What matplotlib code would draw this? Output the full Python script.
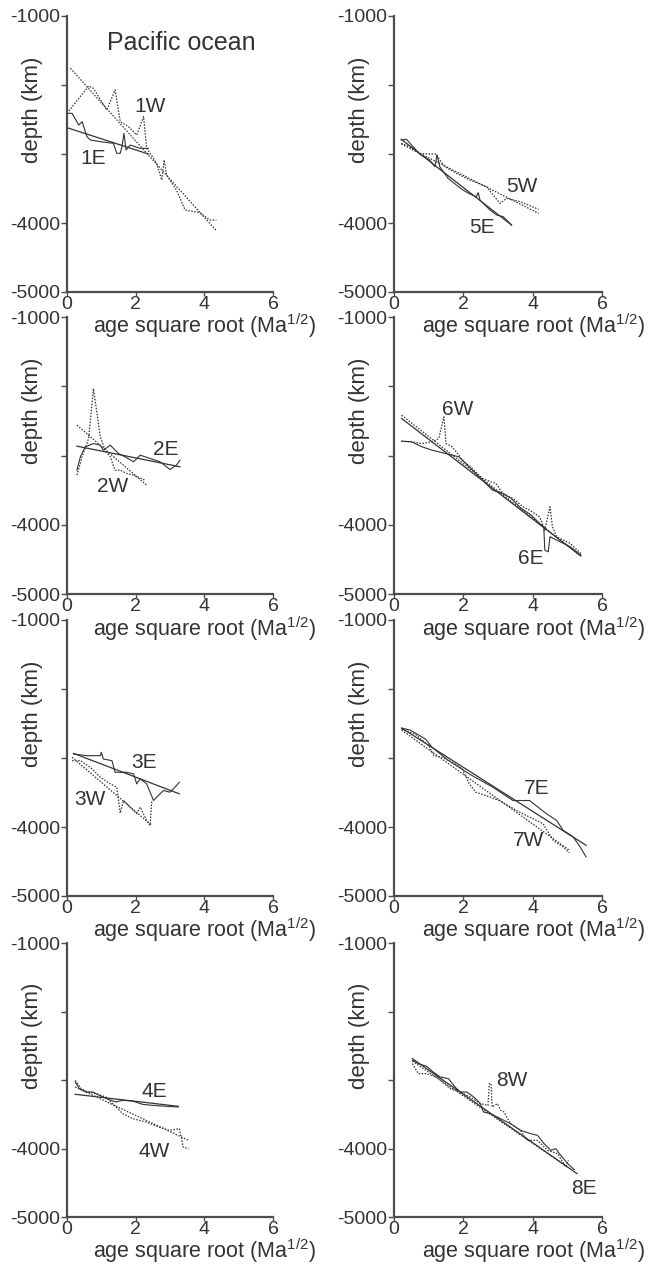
import numpy as np
import matplotlib
matplotlib.use("Agg")
import matplotlib.pyplot as plt

plt.rcParams['font.family'] = ['Liberation Sans', 'DejaVu Sans']
plt.rcParams['mathtext.fontset'] = 'custom'
plt.rcParams['mathtext.rm'] = 'Liberation Sans'
plt.rcParams['mathtext.it'] = 'Liberation Sans:italic'

# ---- profiles: x = sqrt(age) (Ma^1/2), y = depth ----
# panel 1
p1_e_x = [0.0, 0.15, 0.34, 0.44, 0.58, 0.68, 0.97, 1.35, 1.45, 1.55, 1.60, 1.66, 1.72, 1.84, 2.13, 2.37]
p1_e_y = [-2411, -2411, -2580, -2531, -2749, -2797, -2821, -2845, -2990, -2990, -2894, -2700, -2942, -2870, -2918, -2918]
p1_w_x = [0.0, 0.63, 0.77, 1.16, 1.40, 1.55, 1.79, 2.03, 2.23, 2.32, 2.42, 2.61, 2.76, 2.83, 2.90, 3.19, 3.44, 3.87, 4.16, 4.35]
p1_w_y = [-2411, -2015, -2048, -2362, -2072, -2531, -2604, -2725, -2459, -2918, -2990, -3135, -3377, -3087, -3304, -3522, -3812, -3850, -3957, -3957]
# panel 2
p2_e_x = [0.29, 0.39, 0.53, 0.77, 0.97, 1.06, 1.26, 1.50, 1.69, 1.94, 2.13, 2.42, 2.71, 3.00, 3.19, 3.29]
p2_e_y = [-3212, -3019, -2875, -2827, -2851, -2923, -2851, -2971, -3019, -3091, -2995, -3043, -3091, -3202, -3139, -3067]
p2_w_x = [0.29, 0.44, 0.63, 0.77, 0.97, 1.11, 1.26, 1.40, 1.55, 1.74, 1.94, 2.27]
p2_w_y = [-3284, -3019, -2755, -2034, -2731, -2923, -3019, -3212, -3212, -3260, -3284, -3356]
# panel 3
p3_e_x = [0.19, 0.58, 0.97, 1.00, 1.06, 1.31, 1.40, 1.50, 1.74, 1.94, 2.03, 2.13, 2.32, 2.52, 2.66, 2.81, 3.00, 3.19, 3.27]
p3_e_y = [-2942, -2966, -2966, -2918, -3014, -3039, -3207, -3207, -3207, -3231, -3375, -3303, -3375, -3616, -3544, -3471, -3495, -3399, -3351]
p3_w_x = [0.15, 0.39, 0.68, 0.97, 1.26, 1.45, 1.55, 1.65, 1.84, 2.03, 2.13, 2.32, 2.42, 2.47]
p3_w_y = [-3039, -3039, -3135, -3279, -3375, -3423, -3798, -3616, -3712, -3808, -3712, -3904, -3977, -3616]
# panel 4
p4_e_x = [0.24, 0.36, 0.55, 0.75, 0.94, 1.23, 1.42, 1.62, 1.91, 2.20, 2.49, 2.88, 3.24]
p4_e_y = [-3029, -3126, -3175, -3175, -3224, -3287, -3321, -3297, -3307, -3355, -3370, -3384, -3394]
p4_w_x = [0.24, 0.41, 0.60, 0.84, 1.13, 1.38, 1.62, 1.91, 2.30, 2.68, 2.97, 3.27, 3.34, 3.38, 3.54]
p4_w_y = [-3005, -3126, -3175, -3199, -3248, -3370, -3491, -3564, -3613, -3686, -3735, -3710, -3856, -3978, -4002]
# panel 5
p5_e_x = [0.21, 0.36, 0.55, 0.74, 1.03, 1.18, 1.24, 1.32, 1.56, 1.80, 1.99, 2.19, 2.38, 2.43, 2.48, 2.77, 2.96, 3.15, 3.39]
p5_e_y = [-2797, -2787, -2894, -3000, -3087, -3184, -3014, -3184, -3353, -3450, -3522, -3580, -3618, -3560, -3667, -3812, -3884, -3908, -4029]
p5_w_x = [0.21, 0.45, 0.74, 0.98, 1.22, 1.32, 1.47, 1.80, 2.19, 2.67, 2.86, 3.06, 3.25, 3.64, 4.17]
p5_w_y = [-2845, -2894, -2990, -3000, -3000, -3087, -3184, -3280, -3377, -3473, -3594, -3715, -3643, -3691, -3802]
# panel 6
p6_e_x = [0.22, 0.51, 0.81, 1.10, 1.49, 1.87, 2.17, 2.46, 2.84, 3.14, 3.38, 3.67, 3.96, 4.20, 4.32, 4.35, 4.45, 4.50, 4.69, 5.08, 5.39]
p6_e_y = [-2793, -2803, -2875, -2923, -2971, -3019, -3164, -3308, -3500, -3548, -3620, -3764, -3861, -3981, -4029, -4366, -4390, -4173, -4221, -4317, -4437]
p6_w_x = [0.22, 0.51, 0.81, 1.10, 1.29, 1.44, 1.50, 1.68, 1.87, 1.97, 2.26, 2.55, 2.80, 2.94, 3.14, 3.43, 3.72, 3.91, 4.20, 4.35, 4.50, 4.57, 4.69, 5.08, 5.39]
p6_w_y = [-2793, -2803, -2827, -2803, -2755, -2442, -2827, -2875, -2995, -3067, -3188, -3332, -3380, -3404, -3548, -3620, -3740, -3789, -3885, -4077, -3740, -4029, -4173, -4269, -4414]
# panel 7
p7_e_x = [0.22, 0.47, 0.91, 1.10, 1.58, 2.17, 2.85, 3.43, 3.91, 4.40, 4.69, 4.88, 5.17, 5.37, 5.54]
p7_e_y = [-2567, -2596, -2726, -2846, -3039, -3231, -3423, -3616, -3616, -3808, -3904, -4049, -4145, -4289, -4433]
p7_w_x = [0.22, 0.61, 1.00, 1.15, 1.39, 1.78, 1.97, 2.17, 2.36, 2.65, 3.04, 3.53, 3.91, 4.30, 4.59, 4.88, 5.06]
p7_w_y = [-2582, -2654, -2822, -2966, -2990, -3087, -3159, -3375, -3495, -3544, -3616, -3760, -3856, -3952, -4193, -4289, -4375]
# panel 8
p8_e_x = [0.53, 0.70, 0.94, 1.13, 1.33, 1.57, 1.76, 1.91, 2.10, 2.30, 2.49, 2.58, 2.78, 3.07, 3.36, 3.65, 3.94, 4.14, 4.33, 4.52, 4.67, 4.77, 5.01, 5.20]
p8_e_y = [-2713, -2761, -2800, -2883, -2956, -2980, -3102, -3175, -3175, -3248, -3345, -3467, -3491, -3564, -3637, -3735, -3783, -3808, -3929, -4027, -4002, -4075, -4221, -4309]
p8_w_x = [0.53, 0.70, 0.94, 1.23, 1.62, 1.91, 2.20, 2.49, 2.71, 2.75, 2.80, 2.83, 2.98, 3.08, 3.17, 3.36, 3.65, 3.84, 4.14, 4.43, 4.72, 4.96, 5.03]
p8_w_y = [-2761, -2907, -2907, -2956, -3126, -3175, -3248, -3345, -3370, -3053, -3053, -3394, -3345, -3443, -3467, -3637, -3735, -3881, -3881, -4027, -4075, -4270, -4172]

# straight fit lines: (x start, x end), (y start, y end)
fit_e = {1: ([0.0, 2.37], [-2618, -3000]), 2: ([0.29, 3.29], [-2865, -3163]),
         3: ([0.19, 3.27], [-2933, -3519]), 4: ([0.24, 3.24], [-3209, -3384]),
         5: ([0.21, 3.39], [-2787, -4029]), 6: ([0.22, 5.39], [-2466, -4452]),
         7: ([0.22, 5.54], [-2567, -4265]), 8: ([0.53, 5.28], [-2689, -4367])}
fit_w = {1: ([0.1, 4.35], [-1758, -4111]), 2: ([0.29, 2.32], [-2563, -3428]),
         3: ([0.15, 2.47], [-2991, -3977]), 4: ([0.24, 3.54], [-3102, -3881]),
         5: ([0.21, 4.17], [-2855, -3860]), 6: ([0.22, 5.39], [-2418, -4452]),
         7: ([0.22, 5.06], [-2596, -4337]), 8: ([0.53, 5.03], [-2723, -4280])}

profiles = {1: (p1_e_x, p1_e_y, p1_w_x, p1_w_y), 2: (p2_e_x, p2_e_y, p2_w_x, p2_w_y),
            3: (p3_e_x, p3_e_y, p3_w_x, p3_w_y), 4: (p4_e_x, p4_e_y, p4_w_x, p4_w_y),
            5: (p5_e_x, p5_e_y, p5_w_x, p5_w_y), 6: (p6_e_x, p6_e_y, p6_w_x, p6_w_y),
            7: (p7_e_x, p7_e_y, p7_w_x, p7_w_y), 8: (p8_e_x, p8_e_y, p8_w_x, p8_w_y)}

# label positions (x, y) for the E and W names
label_e = {1: (0.77, -3063), 2: (2.87, -2914), 3: (2.23, -3063), 4: (2.54, -3165),
           5: (2.53, -4067), 6: (3.96, -4486), 7: (4.11, -3447), 8: (5.49, -4586)}
label_w = {1: (2.42, -2314), 2: (1.33, -3452), 3: (0.66, -3606), 4: (2.54, -4051),
           5: (3.68, -3464), 6: (1.83, -2332), 7: (3.87, -4193), 8: (3.39, -3014)}

y_ticks = [-5000, -4000, -3000, -2000, -1000]
y_ticklabels = ['-5000', '-4000', '', '', '-1000']
x_ticks = [0, 2, 4, 6]

dark = '#333333'
axcol = '#4d4d4d'

fig = plt.figure(figsize=(6.63, 12.66), dpi=100)
W, H = 663, 1266
col_left = [67, 394]
col_width = [206, 208]
row_top = [16, 317, 620, 943]
row_bot = [292, 594, 896, 1217]

for n in range(1, 9):
    col = 0 if n <= 4 else 1
    row = (n - 1) % 4
    ax = fig.add_axes([col_left[col] / W, 1 - row_bot[row] / H,
                       col_width[col] / W, (row_bot[row] - row_top[row]) / H])
    ax.set_facecolor('none')
    ex, ey, wx, wy = profiles[n]
    ax.plot(ex, ey, color=dark, lw=0.8)
    ax.plot(wx, wy, color=dark, lw=0.9, ls=(0, (1.2, 1.2)))
    ax.plot(fit_e[n][0], fit_e[n][1], color=dark, lw=0.9)
    ax.plot(fit_w[n][0], fit_w[n][1], color=dark, lw=0.9, ls=(0, (1.2, 1.2)))
    ax.text(*label_e[n], f'{n}E', fontsize=15, color=dark, ha='center', va='center')
    ax.text(*label_w[n], f'{n}W', fontsize=15, color=dark, ha='center', va='center')

    ax.set_xlim(0, 6)
    ax.set_ylim(-5000, -1000)
    ax.set_xticks(x_ticks)
    ax.set_xticklabels([str(t) for t in x_ticks])
    ax.set_yticks(y_ticks)
    ax.set_yticklabels(y_ticklabels)
    for s in ['top', 'right']:
        ax.spines[s].set_visible(False)
    for s in ['left', 'bottom']:
        ax.spines[s].set_color(axcol)
        ax.spines[s].set_linewidth(1.6)
    ax.tick_params(axis='y', length=4, width=1, color=axcol, pad=1,
                   labelsize=14, labelcolor=dark)
    ax.tick_params(axis='x', length=3, width=1, color=axcol, pad=0,
                   labelsize=14, labelcolor=dark)
    ax.set_ylabel('depth (km)', fontsize=16, color=dark)
    ax.yaxis.set_label_coords(-0.115, 0.66)
    ax.set_xlabel(r'age square root (Ma$^{\mathrm{1/2}}$)', fontsize=15.5, color=dark)
    ax.xaxis.set_label_coords(0.67, -0.072)
    if n == 1:
        ax.text(3.34, -1396, 'Pacific ocean', fontsize=18, color=dark,
                ha='center', va='center')

fig.savefig('out.png', dpi=100)
